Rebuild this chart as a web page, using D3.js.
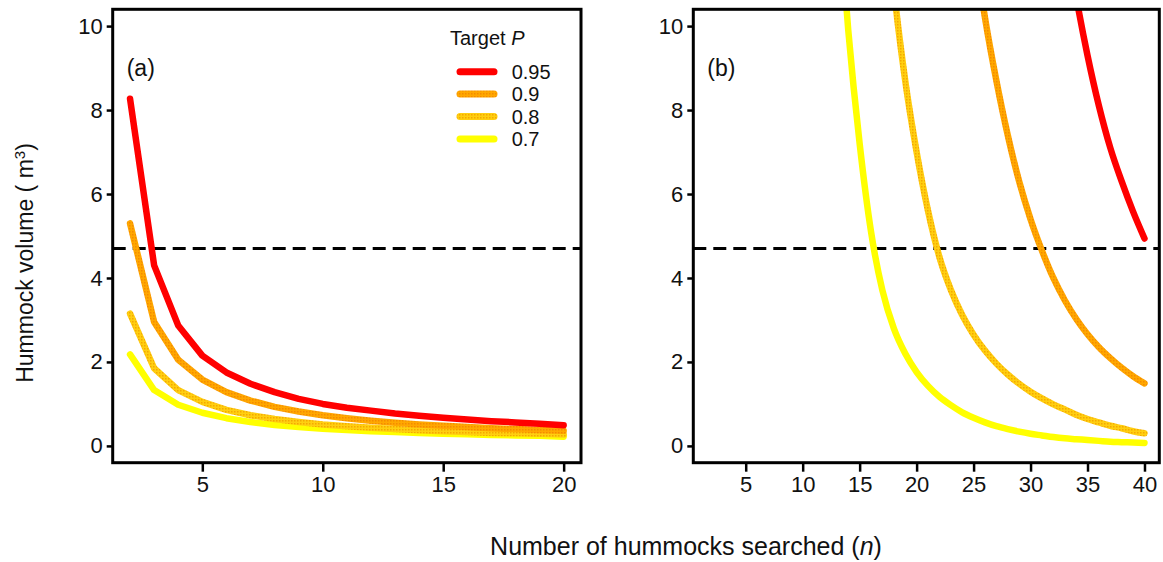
<!DOCTYPE html>
<html lang="en">
<head>
<meta charset="UTF-8">
<title>Hummock volume</title>
<script src="https://cdn.jsdelivr.net/npm/d3@7"></script>
<style>
  body { margin: 0; background: #fff; }
  svg { display: block; font-family: "Liberation Sans", Arial, sans-serif; }
</style>
</head>
<body>
<script>
// legend / series
const targets = ["0.95", "0.9", "0.8", "0.7"];
const colours = ["#ff0000", "#ffa000", "#ffc800", "#ffff00"];

// panel (a): n = 2..20
const nA = [2, 3, 4, 5, 6, 7, 8, 9, 10, 11, 12, 13, 14, 15, 16, 17, 18, 19, 20];
const a95 = [8.27, 4.3, 2.87, 2.15, 1.75, 1.48, 1.28, 1.12, 1.0, 0.91, 0.84, 0.77, 0.72, 0.67, 0.63, 0.59, 0.56, 0.53, 0.49];
const a90 = [5.3, 2.95, 2.05, 1.58, 1.28, 1.08, 0.93, 0.82, 0.73, 0.66, 0.6, 0.55, 0.51, 0.48, 0.45, 0.42, 0.4, 0.38, 0.36];
const a80 = [3.15, 1.85, 1.33, 1.05, 0.86, 0.73, 0.64, 0.57, 0.51, 0.47, 0.43, 0.4, 0.37, 0.35, 0.33, 0.31, 0.3, 0.29, 0.27];
const a70 = [2.18, 1.33, 0.98, 0.79, 0.66, 0.57, 0.5, 0.45, 0.41, 0.38, 0.35, 0.33, 0.31, 0.29, 0.28, 0.26, 0.25, 0.24, 0.22];

// panel (b): each series starts at its own n and runs to 40
const startB = [33, 25, 17, 13];
const b95 = [12.3, 10.7, 9.3, 8.1, 7.1, 6.3, 5.58, 4.94];
const b90 = [12.0, 10.2, 8.7, 7.4, 6.3, 5.4, 4.65, 4.0, 3.47, 3.03, 2.66, 2.35, 2.09, 1.86, 1.66, 1.49];
const b80 = [13.9, 10.9, 8.7, 7.0, 5.6, 4.5, 3.72, 3.12, 2.65, 2.27, 1.96, 1.7, 1.48, 1.29, 1.13, 0.99, 0.87, 0.74, 0.64, 0.56, 0.48, 0.42, 0.35, 0.3];
const b70 = [13.4, 9.9, 7.2, 5.1, 3.7, 2.8, 2.2, 1.76, 1.43, 1.17, 0.97, 0.8, 0.67, 0.56, 0.47, 0.4, 0.34, 0.29, 0.25, 0.21, 0.18, 0.16, 0.14, 0.12, 0.1, 0.09, 0.08, 0.07];

const threshold = 4.7;
const yTicks = [0, 2, 4, 6, 8, 10];
const xTicksA = [5, 10, 15, 20];
const xTicksB = [5, 10, 15, 20, 25, 30, 35, 40];

const width = 1163, height = 562;
const plotTop = 9.3, plotBottom = 462.7;

const svg = d3.select("body").append("svg").attr("width", width).attr("height", height);

// dotted texture for the orange shades
const defs = svg.append("defs");
function texture(id, base, dot) {
  const p = defs.append("pattern").attr("id", id).attr("patternUnits", "userSpaceOnUse")
    .attr("width", 3).attr("height", 3);
  p.append("rect").attr("width", 3).attr("height", 3).attr("fill", base);
  p.append("rect").attr("width", 1.5).attr("height", 1.5).attr("fill", dot);
}
texture("tex90", "#ffa800", "#f58a00");
texture("tex80", "#ffcf10", "#f5a800");
const strokes = [colours[0], "url(#tex90)", "url(#tex80)", colours[3]];

const y = d3.scaleLinear().domain([-0.4, 10.4]).range([plotBottom, plotTop]);

function panel(id, left, right, xDomain, xTicks, series, curve, tag) {
  const x = d3.scaleLinear().domain(xDomain).range([left, right]);
  const g = svg.append("g");

  defs.append("clipPath").attr("id", id).append("rect")
    .attr("x", left).attr("y", plotTop).attr("width", right - left).attr("height", plotBottom - plotTop);

  // dashed threshold
  g.append("line")
    .attr("x1", left).attr("x2", right)
    .attr("y1", y(threshold)).attr("y2", y(threshold))
    .attr("stroke", "#000").attr("stroke-width", 3).attr("stroke-dasharray", "13,7");

  const line = d3.line().x(d => x(d[0])).y(d => y(d[1])).curve(curve);
  const lines = g.append("g").attr("clip-path", `url(#${id})`);
  // draw lowest target first so red sits on top
  series.slice().reverse().forEach((s, i) => {
    const k = series.length - 1 - i;
    lines.append("path")
      .attr("d", line(s))
      .attr("fill", "none")
      .attr("stroke", strokes[k])
      .attr("stroke-width", 6.5)
      .attr("stroke-linejoin", "round")
      .attr("stroke-linecap", "round");
  });

  // y axis
  const yAxis = g.append("g").attr("transform", `translate(${left},0)`)
    .call(d3.axisLeft(y).tickValues(yTicks).tickSize(6).tickPadding(4));
  // x axis
  const xAxis = g.append("g").attr("transform", `translate(0,${plotBottom})`)
    .call(d3.axisBottom(x).tickValues(xTicks).tickSize(9).tickPadding(5));
  [yAxis, xAxis].forEach(ax => {
    ax.select(".domain").remove();
    ax.selectAll(".tick line").attr("stroke", "#000").attr("stroke-width", 2.5);
    ax.selectAll(".tick text").attr("fill", "#111").style("font-size", "22px")
      .style("font-family", "'Liberation Sans', Arial, sans-serif");
  });

  // frame
  g.append("rect")
    .attr("x", left).attr("y", plotTop).attr("width", right - left).attr("height", plotBottom - plotTop)
    .attr("fill", "none").attr("stroke", "#000").attr("stroke-width", 3);

  g.append("text").attr("x", left + 14).attr("y", 76)
    .style("font-size", "23px").attr("fill", "#111").text(tag);
}

const seriesA = [a95, a90, a80, a70].map(v => v.map((d, i) => [nA[i], d]));
const seriesB = [b95, b90, b80, b70].map((v, j) => v.map((d, i) => [startB[j] + i, d]));

panel("clipA", 112.7, 581, [1.28, 20.72], xTicksA, seriesA, d3.curveLinear, "(a)");
panel("clipB", 693.3, 1159.3, [0.4, 41.3], xTicksB, seriesB, d3.curveMonotoneX, "(b)");

// legend
const leg = svg.append("g");
const legTitle = leg.append("text").attr("x", 450).attr("y", 45)
  .style("font-size", "20px").attr("fill", "#111");
legTitle.append("tspan").text("Target ");
legTitle.append("tspan").attr("font-style", "italic").text("P");
targets.forEach((t, i) => {
  const ly = 71.7 + i * 22.4;
  leg.append("line").attr("x1", 460).attr("x2", 494).attr("y1", ly).attr("y2", ly)
    .attr("stroke", strokes[i]).attr("stroke-width", 7).attr("stroke-linecap", "round");
  leg.append("text").attr("x", 511.7).attr("y", ly).attr("dy", "0.36em")
    .style("font-size", "20px").attr("fill", "#111").text(t);
});

// axis titles
const yt = svg.append("text")
  .attr("transform", "translate(33,263) rotate(-90)")
  .attr("text-anchor", "middle").style("font-size", "23px").attr("fill", "#111");
yt.append("tspan").text("Hummock volume ( m");
yt.append("tspan").attr("baseline-shift", "super").style("font-size", "15px").text("3");
yt.append("tspan").text(")");

const xt = svg.append("text").attr("x", 686).attr("y", 555)
  .attr("text-anchor", "middle").style("font-size", "25px").attr("fill", "#111");
xt.append("tspan").text("Number of hummocks searched (");
xt.append("tspan").attr("font-style", "italic").text("n");
xt.append("tspan").text(")");
</script>
</body>
</html>
